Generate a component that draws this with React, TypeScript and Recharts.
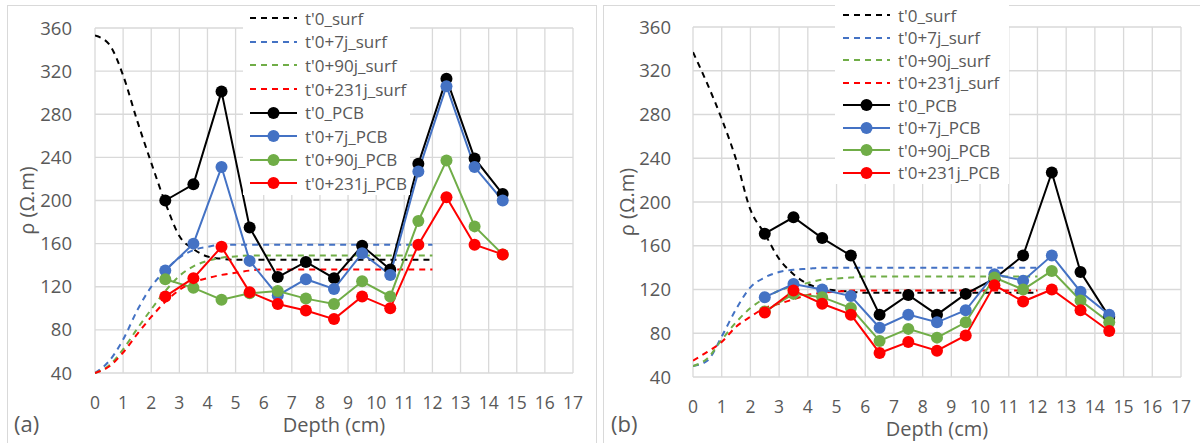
import React from 'react';
import { LineChart, Line, XAxis, YAxis, CartesianGrid, Legend, Label } from 'recharts';

// depths (cm)
const depthSurf = [0, 0.5, 1, 1.5, 2, 2.5, 3, 3.5, 4, 4.5, 5, 5.5, 6, 6.5, 7, 7.5, 8, 8.5, 9, 9.5, 10, 10.5, 11, 11.5, 12];
const depthPcb = [2.5, 3.5, 4.5, 5.5, 6.5, 7.5, 8.5, 9.5, 10.5, 11.5, 12.5, 13.5, 14.5];
const depthTicks = [0, 1, 2, 3, 4, 5, 6, 7, 8, 9, 10, 11, 12, 13, 14, 15, 16, 17];
const rhoTicks = [40, 80, 120, 160, 200, 240, 280, 320, 360];

const seriesNames = ["t'0_surf", "t'0+7j_surf", "t'0+90j_surf", "t'0+231j_surf", "t'0_PCB", "t'0+7j_PCB", "t'0+90j_PCB", "t'0+231j_PCB"];
const seriesColors = ['#000000', '#4472C4', '#70AD47', '#FF0000', '#000000', '#4472C4', '#70AD47', '#FF0000'];

// panel (a)
const aSurfT0 = [353, 345, 316, 274, 235, 198, 167, 155, 148, 146, 145, 145, 145, 145, 145, 145, 145, 145, 145, 145, 145, 145, 145, 145, 145];
const aSurfT7 = [40, 51, 71, 98, 120, 135, 147, 154, 157, 159, 159, 159, 159, 159, 159, 159, 159, 159, 159, 159, 159, 159, 159, 159, 159];
const aSurfT90 = [40, 47, 62, 81, 99, 116, 130, 139, 144, 147, 148, 149, 149, 149, 149, 149, 149, 149, 149, 149, 149, 149, 149, 149, 149];
const aSurfT231 = [40, 46, 59, 76, 92, 106, 117, 124, 128, 131, 133, 135, 136, 136, 136, 136, 136, 136, 136, 136, 136, 136, 136, 136, 136];
const aPcbT0 = [200, 215, 301, 175, 129, 143, 128, 158, 136, 234, 313, 239, 206];
const aPcbT7 = [135, 160, 231, 144, 112, 127, 118, 151, 131, 227, 306, 231, 200];
const aPcbT90 = [127, 119, 108, 114, 116, 109, 104, 125, 111, 181, 237, 176, 150];
const aPcbT231 = [111, 128, 157, 115, 104, 98, 90, 111, 100, 159, 203, 159, 150];

// panel (b)
const bSurfT0 = [337, 308, 276, 239, 193, 171, 148, 134, 125, 121, 119, 118, 117, 117, 117, 117, 117, 117, 117, 117, 117, 117, 117, 117, 117];
const bSurfT7 = [50, 55, 77, 102, 122, 131, 136, 138, 139, 140, 140, 140, 140, 140, 140, 140, 140, 140, 140, 140, 140, 140, 140, 140, 140];
const bSurfT90 = [50, 57, 74, 90, 103, 112, 119, 123, 126, 129, 130, 131, 132, 132, 132, 132, 132, 132, 132, 132, 132, 132, 132, 132, 132];
const bSurfT231 = [55, 63, 72, 86, 95, 103, 107, 111, 115, 117, 118, 119, 119, 119, 119, 119, 119, 119, 119, 119, 119, 119, 119, 119, 119];
const bPcbT0 = [171, 186, 167, 151, 97, 115, 97, 116, 130, 151, 227, 136, 95];
const bPcbT7 = [113, 125, 120, 114, 85, 97, 90, 101, 134, 128, 151, 118, 97];
const bPcbT90 = [100, 116, 113, 103, 73, 84, 76, 90, 131, 120, 137, 110, 90];
const bPcbT231 = [99, 119, 107, 97, 62, 72, 64, 78, 124, 109, 120, 101, 82];

const TEXT = '#595959';
const GRID = '#d9d9d9';
const FONT = '"Open Sans", sans-serif';

interface Series {
  key: string;
  name: string;
  color: string;
  dashed: boolean;
  points: { depth: number; [k: string]: number }[];
}

const buildSeries = (values: number[][]): Series[] =>
  values.map((ys, i) => {
    const dashed = i < 4;
    const xs = dashed ? depthSurf : depthPcb;
    const key = 's' + i;
    return {
      key,
      name: seriesNames[i],
      color: seriesColors[i],
      dashed,
      points: xs.map((x, j) => ({ depth: x, [key]: ys[j] })),
    };
  });

const seriesA = buildSeries([aSurfT0, aSurfT7, aSurfT90, aSurfT231, aPcbT0, aPcbT7, aPcbT90, aPcbT231]);
const seriesB = buildSeries([bSurfT0, bSurfT7, bSurfT90, bSurfT231, bPcbT0, bPcbT7, bPcbT90, bPcbT231]);

const LegendBox = ({ series, rowH, padTop, padLeft }: { series: Series[]; rowH: number; padTop: number; padLeft: number }) => (
  <div style={{ background: '#fff', paddingTop: padTop, paddingLeft: padLeft, fontFamily: FONT }}>
    {series.map((s) => (
      <div key={s.key} style={{ display: 'flex', alignItems: 'center', height: rowH }}>
        <svg width={47} height={14} style={{ display: 'block' }}>
          <line x1={0} x2={47} y1={7} y2={7} stroke={s.color} strokeWidth={2} strokeDasharray={s.dashed ? '6 5' : undefined} />
          {!s.dashed && <circle cx={23.5} cy={7} r={6} fill={s.color} />}
        </svg>
        <span style={{ marginLeft: 8, fontSize: 17, color: TEXT, whiteSpace: 'nowrap', lineHeight: 1 }}>{s.name}</span>
      </div>
    ))}
  </div>
);

interface PanelProps {
  letter: string;
  series: Series[];
  left: number;
  width: number;
  plotLeft: number;
  plotRight: number;
  plotTop: number;
  plotBottom: number;
  yTickMargin: number;
  legend: { left: number; top: number; width: number; height: number; rowH: number; padTop: number; padLeft: number };
}

const Panel = ({ letter, series, left, width, plotLeft, plotRight, plotTop, plotBottom, yTickMargin, legend }: PanelProps) => {
  const height = 443;
  const bottomMargin = 5;
  const xAxisHeight = height - plotBottom - bottomMargin;
  return (
    <div style={{ position: 'absolute', left, top: 0 }}>
      <LineChart
        width={width}
        height={height}
        margin={{ top: plotTop, right: width - plotRight, bottom: bottomMargin, left: 0 }}
        style={{ fontFamily: FONT }}
      >
        <CartesianGrid stroke={GRID} strokeWidth={1.3} />
        <XAxis
          type="number"
          dataKey="depth"
          domain={[0, 17]}
          ticks={depthTicks}
          interval={0}
          allowDataOverflow
          height={xAxisHeight}
          axisLine={false}
          tickLine={false}
          tickMargin={18}
          tick={{ fill: TEXT, fontSize: 17.5 }}
        >
          <Label
            content={({ viewBox }: any) => (
              <text x={viewBox.x + viewBox.width / 2} y={viewBox.y + 59} textAnchor="middle" fill={TEXT} fontSize={20}>
                Depth (cm)
              </text>
            )}
          />
        </XAxis>
        <YAxis
          type="number"
          domain={[40, 360]}
          ticks={rhoTicks}
          interval={0}
          width={plotLeft}
          axisLine={false}
          tickLine={false}
          tickMargin={yTickMargin}
          tick={{ fill: TEXT, fontSize: 18.5 }}
        >
          <Label
            content={({ viewBox }: any) => {
              const cx = 26;
              const cy = viewBox.y + viewBox.height / 2;
              return (
                <text x={cx} y={cy} transform={`rotate(-90 ${cx} ${cy})`} textAnchor="middle" dominantBaseline="central" fill={TEXT} fontSize={20}>
                  ρ (Ω.m)
                </text>
              );
            }}
          />
        </YAxis>
        <Legend
          layout="vertical"
          align="center"
          verticalAlign="middle"
          wrapperStyle={{ left: legend.left, top: legend.top, width: legend.width, height: legend.height }}
          content={() => <LegendBox series={series} rowH={legend.rowH} padTop={legend.padTop} padLeft={legend.padLeft} />}
        />
        {series.map((s) => (
          <Line
            key={s.key}
            data={s.points}
            dataKey={s.key}
            name={s.name}
            type={s.dashed ? 'monotone' : 'linear'}
            stroke={s.color}
            strokeWidth={2}
            strokeDasharray={s.dashed ? '6 5' : undefined}
            dot={s.dashed ? false : { r: 6, fill: s.color, stroke: s.color, strokeWidth: 0 }}
            activeDot={false}
            legendType="none"
            isAnimationActive={false}
          />
        ))}
      </LineChart>
      <div style={{ position: 'absolute', left: letter === '(a)' ? 14 : 11, top: 408, fontSize: 22, color: TEXT, fontFamily: FONT }}>{letter}</div>
    </div>
  );
};

const App = () => (
  <div style={{ position: 'absolute', left: 0, top: 0, width: 1200, height: 443, background: '#fff', overflow: 'hidden' }}>
    <div style={{ position: 'absolute', left: 7, top: 5, width: 590, height: 445, border: `1px solid ${GRID}`, boxSizing: 'border-box' }} />
    <div style={{ position: 'absolute', left: 603, top: 5, width: 600, height: 445, border: `1px solid ${GRID}`, boxSizing: 'border-box' }} />
    <Panel
      letter="(a)"
      series={seriesA}
      left={0}
      width={600}
      plotLeft={95}
      plotRight={573}
      plotTop={28}
      plotBottom={373}
      yTickMargin={17}
      legend={{ left: 243, top: 6, width: 167, height: 190, rowH: 23.6, padTop: 0.5, padLeft: 7 }}
    />
    <Panel
      letter="(b)"
      series={seriesB}
      left={600}
      width={600}
      plotLeft={93}
      plotRight={581}
      plotTop={27}
      plotBottom={377}
      yTickMargin={16}
      legend={{ left: 235, top: 4, width: 174, height: 179, rowH: 22.5, padTop: 0, padLeft: 8 }}
    />
  </div>
);

export default App;
